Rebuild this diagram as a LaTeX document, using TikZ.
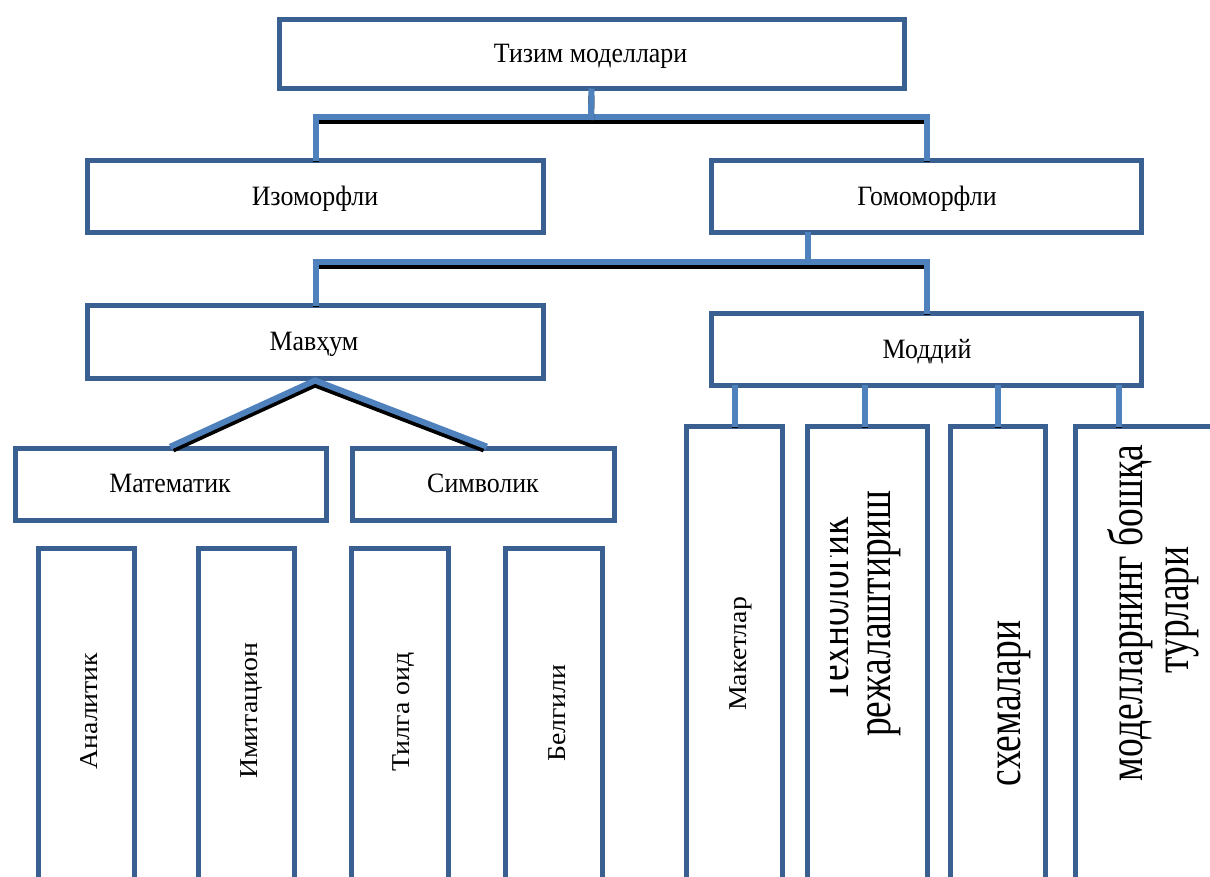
\documentclass[tikz,border=0pt]{standalone}
\usepackage{graphicx}
\usepackage{fontspec}
\setmainfont{Liberation Serif}
\definecolor{boxblue}{HTML}{3A6092}
\definecolor{linkblue}{HTML}{4F81BD}
\newcommand\hsq[1]{\scalebox{0.925}[1]{#1}}
\newcommand\vsq[1]{\scalebox{1}[0.925]{#1}}
\newcommand\bsq[1]{\scalebox{1}[1.3]{#1}}
\tikzset{
  box/.style={draw=boxblue, line width=5pt, fill=white, inner sep=0pt},
  lbl/.style={font=\fontsize{28}{32}\selectfont, inner sep=0pt, anchor=base},
  vlbl/.style={font=\fontsize{27.8}{32}\selectfont, inner sep=0pt, rotate=90, anchor=base},
  biglbl/.style={font=\fontsize{37.5}{44}\selectfont, inner sep=0pt, rotate=90, anchor=base},
  link/.style={draw=linkblue, line width=6pt, line join=miter, line cap=rect,
    preaction={draw=black, line width=6pt, transform canvas={yshift=-4pt}}},
}
\begin{document}
\begin{tikzpicture}[x=1pt, y=-1pt]
\clip (0,0) rectangle (1210,877);
\fill[white] (0,0) rectangle (1210,877);
% boxes
\node[box, minimum width=625pt, minimum height=69pt] (top) at (591.5,54.5) {};
\node[box, minimum width=456pt, minimum height=72pt] (iso) at (315,197) {};
\node[box, minimum width=430pt, minimum height=72pt] (gom) at (926,197) {};
\node[box, minimum width=456pt, minimum height=72pt] (mav) at (315,342) {};
\node[box, minimum width=430pt, minimum height=71pt] (mod) at (926,349.5) {};
\node[box, minimum width=311pt, minimum height=72pt] (mat) at (170.5,484) {};
\node[box, minimum width=262pt, minimum height=72pt] (sym) at (483,484) {};
% tall boxes, left
\node[box, minimum width=96pt, minimum height=340pt] (an) at (86,718) {};
\node[box, minimum width=96pt, minimum height=340pt] (im) at (246,718) {};
\node[box, minimum width=97pt, minimum height=340pt] (ti) at (399.5,718) {};
\node[box, minimum width=97pt, minimum height=340pt] (be) at (553.5,718) {};
% tall boxes, right
\node[box, minimum width=95.5pt, minimum height=460pt] (mk) at (734.25,656) {};
\node[box, minimum width=119.5pt, minimum height=460pt] (te) at (867.25,656) {};
\node[box, minimum width=95pt, minimum height=460pt] (sx) at (997.5,656) {};
\node[box, minimum width=170pt, minimum height=460pt] (bo) at (1160.5,656) {};
% texts
\node[lbl] (ttop) at (590.5,63) {\hsq{Тизим моделлари}};
\node[lbl] (tiso) at (315,205.5) {\hsq{Изоморфли}};
\node[lbl] (tgom) at (927,205.5) {\hsq{Гомоморфли}};
\node[lbl] (tmav) at (314,350.5) {\hsq{Мавҳум}};
\node[lbl] (tmod) at (927,358) {\hsq{Моддий}};
\node[lbl] (tmat) at (170,492.5) {\hsq{Математик}};
\node[lbl] (tsym) at (483,492.5) {\hsq{Символик}};
\node[vlbl] (tan) at (97,711) {\vsq{Аналитик}};
\node[vlbl] (tim) at (257,711) {\vsq{Имитацион}};
\node[vlbl] (tti) at (409,712) {\vsq{Тилга оид}};
\node[vlbl] (tbe) at (565,713) {\vsq{Белгили}};
\node[vlbl] (tmk) at (746,654) {\vsq{Макетлар}};
\begin{scope}
\clip (830,420) rectangle (925,880);
\node[biglbl] (tte1) at (848,610) {\bsq{Технологик}};
\end{scope}
\node[biglbl] (tte2) at (890,613.5) {\bsq{режалаштириш}};
\node[biglbl] (tsx) at (1020,703.5) {\bsq{схемалари}};
\node[biglbl] (tbo1) at (1142,613) {\bsq{моделларнинг бошқа}};
\node[biglbl] (tbo2) at (1188,610) {\bsq{турлари}};
% connectors
\coordinate (h1) at (591,117);
\draw[link] (iso.north -| 316,0) |- (h1) -| (gom.north -| 927,0);
\draw[link] (top.south) -- (h1);
\coordinate (h2) at (808,262);
\draw[link] (mav.north -| 316,0) |- (h2) -| (mod.north -| 927,0);
\draw[link] (gom.south -| h2) -- (h2);
\draw[link] (mat.north -| 173,0) -- (mav.south) -- (sym.north -| 484,0);
\draw[link] (mod.south -| 735,0) -- (mk.north -| 735,0);
\draw[link] (mod.south -| 864.5,0) -- (te.north -| 864.5,0);
\draw[link] (mod.south -| 998,0) -- (sx.north -| 998,0);
\draw[link] (mod.south -| 1118.5,0) -- (bo.north -| 1118.5,0);
\end{tikzpicture}
\end{document}
